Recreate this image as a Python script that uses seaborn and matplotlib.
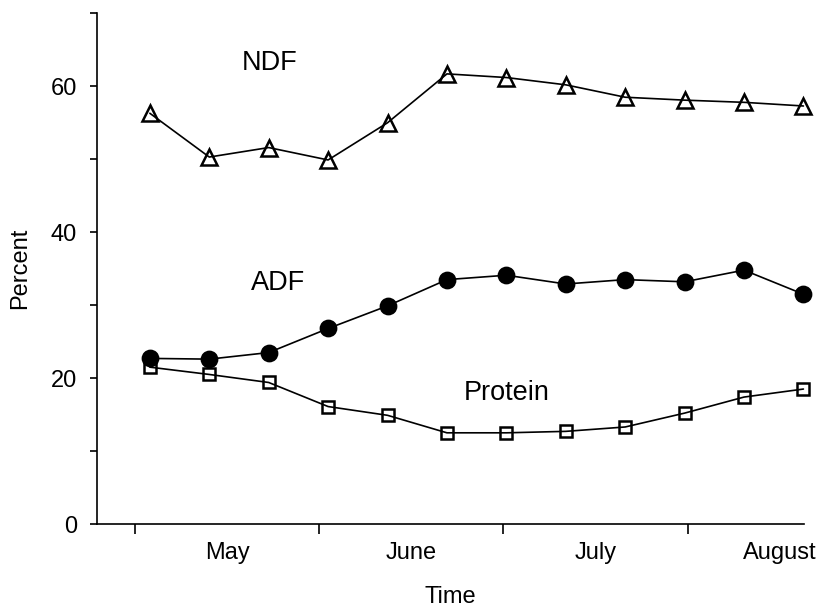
import matplotlib
matplotlib.use("Agg")
import matplotlib.pyplot as plt
import seaborn as sns

# sampling days, counted from 1 May (about every 10 days)
days = [2.5, 12.5, 22.5, 32.5, 42.5, 52.5, 62.5, 72.5, 82.5, 92.5, 102.5, 112.5]

ndf = [56.3, 50.3, 51.6, 49.9, 55.0, 61.7, 61.2, 60.2, 58.5, 58.1, 57.8, 57.3]
adf = [22.7, 22.6, 23.5, 26.8, 29.9, 33.5, 34.1, 32.9, 33.5, 33.2, 34.8, 31.5]
protein = [21.5, 20.5, 19.4, 16.1, 14.9, 12.5, 12.5, 12.7, 13.3, 15.2, 17.4, 18.5]

month_starts = [0, 31, 62, 93]
month_mids = [15.5, 46.5, 77.5, 108.5]
month_names = ["May", "June", "July", "August"]

sns.set_style("ticks")
plt.rcParams['font.family'] = ['Liberation Sans', 'DejaVu Sans']
plt.rcParams['text.color'] = 'black'
plt.rcParams['axes.labelcolor'] = 'black'
plt.rcParams['xtick.color'] = 'black'
plt.rcParams['ytick.color'] = 'black'

fig = plt.figure(figsize=(8.18, 6.06), dpi=100)
ax = fig.add_axes([0.1182, 0.1353, 0.8647, 0.8427])

line_kw = dict(color="black", linewidth=1.2, markeredgecolor="black",
               markeredgewidth=1.8, clip_on=False)
sns.lineplot(x=days, y=protein, marker="s", markersize=9,
             markerfacecolor="none", ax=ax, **line_kw)
sns.lineplot(x=days, y=adf, marker="o", markersize=11,
             markerfacecolor="black", ax=ax, **line_kw)
sns.lineplot(x=days, y=ndf, marker="^", markersize=12,
             markerfacecolor="none", ax=ax, **line_kw)

ax.text(22.6, 62.3, "NDF", ha="center", va="baseline", fontsize=19.5)
ax.text(24.1, 32.05, "ADF", ha="center", va="baseline", fontsize=19.5)
ax.text(62.6, 17.0, "Protein", ha="center", va="baseline", fontsize=19.5)

ax.set_xlim(-6.45, 112.6)
ax.set_ylim(0, 70)

ax.set_xticks(month_starts)
ax.set_xticklabels([])
ax.set_xticks(month_mids, minor=True)
ax.set_xticklabels(month_names, minor=True, fontsize=17)
ax.tick_params(axis="x", which="major", length=7.2, width=1.2, direction="out")
ax.tick_params(axis="x", which="minor", length=0, pad=13)

ax.set_yticks([0, 20, 40, 60])
ax.set_yticklabels(["0", "20", "40", "60"], fontsize=17)
ax.set_yticks([10, 30, 50, 70], minor=True)
ax.tick_params(axis="y", which="both", length=5, width=1.2, pad=9)

ax.set_xlabel("Time", fontsize=17, labelpad=15.5)
ax.set_ylabel("Percent", fontsize=17, labelpad=14)

for side in ["top", "right"]:
    ax.spines[side].set_visible(False)
for side in ["left", "bottom"]:
    ax.spines[side].set_linewidth(1.2)
    ax.spines[side].set_color("black")

fig.savefig("out.png", dpi=100)
